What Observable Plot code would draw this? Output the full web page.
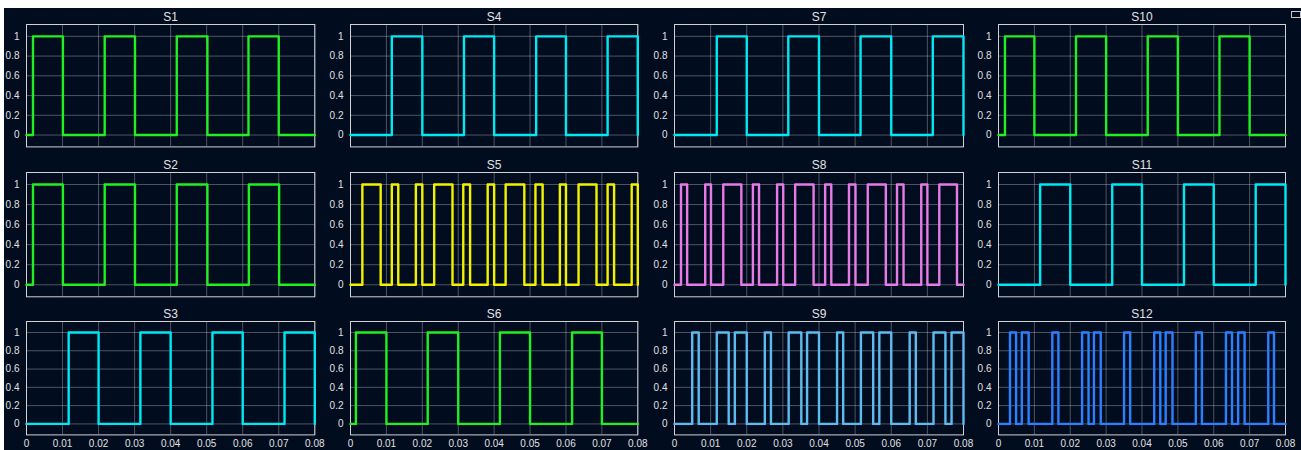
<!DOCTYPE html>
<html>
<head>
<meta charset="utf-8">
<script src="https://cdn.jsdelivr.net/npm/d3@7"></script>
<script src="https://cdn.jsdelivr.net/npm/@observablehq/plot@0.6"></script>
<style>
  html, body { margin: 0; padding: 0; background: #ffffff; }
  #page { position: relative; width: 1301px; height: 450px; overflow: hidden; background: #ffffff; }
  #dark { position: absolute; left: 4px; top: 8px; right: 0; bottom: 0; background: #020c1f; }
  .panel { position: absolute; }
  .panel svg { overflow: visible; }
  #icon { position: absolute; left: 1291px; top: 11px; width: 8px; height: 5px; border: 1px solid #c8c8c8; }
</style>
</head>
<body>
<div id="page"><div id="dark"></div><div id="icon"></div></div>
<script>
// ---- data ----
const seriesNames = ["S1","S2","S3","S4","S5","S6","S7","S8","S9","S10","S11","S12"];
const xTicks = [0, 0.01, 0.02, 0.03, 0.04, 0.05, 0.06, 0.07, 0.08];
const xTickLabels = ["0","0.01","0.02","0.03","0.04","0.05","0.06","0.07","0.08"];
const yTicks = [0, 0.2, 0.4, 0.6, 0.8, 1];
const yTickLabels = ["0","0.2","0.4","0.6","0.8","1"];
const tEnd = 0.08;
// switching instants of each signal (starts at 0, toggles 0/1 at each instant)
const s1Edges  = [0.0018,0.0101,0.0217,0.0301,0.0417,0.0502,0.0616,0.0700];
const s2Edges  = [0.0018,0.0101,0.0217,0.0301,0.0417,0.0502,0.0617,0.0701];
const s3Edges  = [0.0117,0.0200,0.0316,0.0400,0.0516,0.0600,0.0716,0.0800];
const s4Edges  = [0.0115,0.0200,0.0316,0.0400,0.0517,0.0600,0.0716,0.0800];
const s5Edges  = [0.0033,0.0084,0.0115,0.0133,0.0182,0.0200,0.0233,0.0284,0.0314,0.0333,0.0382,0.0400,
                  0.0432,0.0484,0.0515,0.0535,0.0583,0.0600,0.0635,0.0685,0.0716,0.0734,0.0783,0.0800];
const s6Edges  = [0.0015,0.0100,0.0215,0.0300,0.0416,0.0500,0.0617,0.0700];
const s7Edges  = [0.0117,0.0200,0.0315,0.0400,0.0515,0.0600,0.0715,0.0800];
const s8Edges  = [0.0018,0.0035,0.0085,0.0101,0.0135,0.0185,0.0217,0.0234,0.0284,0.0301,0.0334,0.0385,
                  0.0417,0.0434,0.0483,0.0501,0.0535,0.0585,0.0616,0.0634,0.0683,0.0700,0.0733,0.0782];
const s9Edges  = [0.0049,0.0067,0.0117,0.0150,0.0167,0.0200,0.0250,0.0267,0.0316,0.0351,0.0367,0.0400,
                  0.0450,0.0467,0.0516,0.0550,0.0567,0.0600,0.0651,0.0668,0.0717,0.0750,0.0767,0.0800];
const s10Edges = [0.0018,0.0100,0.0216,0.0300,0.0416,0.0500,0.0616,0.0700];
const s11Edges = [0.0116,0.0200,0.0317,0.0400,0.0517,0.0600,0.0717,0.0800];
const s12Edges = [0.0032,0.0049,0.0065,0.0084,0.0150,0.0167,0.0233,0.0251,0.0266,0.0285,0.0350,0.0367,
                  0.0434,0.0451,0.0466,0.0485,0.0550,0.0567,0.0634,0.0651,0.0668,0.0686,0.0752,0.0768];
const allEdges = [s1Edges,s2Edges,s3Edges,s4Edges,s5Edges,s6Edges,s7Edges,s8Edges,s9Edges,s10Edges,s11Edges,s12Edges];

// ---- styles / layout ----
const seriesColors = {
  S1:"#22ee22", S2:"#22ee22", S3:"#00e8f2", S4:"#00e8f2", S5:"#f2f200", S6:"#22ee22",
  S7:"#00e8f2", S8:"#e67ae6", S9:"#5cbcf0", S10:"#22ee22", S11:"#00e8f2", S12:"#2a80ff"
};
const gridLayout = [["S1","S4","S7","S10"],["S2","S5","S8","S11"],["S3","S6","S9","S12"]];
const colLeft  = [25.5, 350, 673.8, 997.7];
const colRight = [313.8, 637.3, 962.8, 1284.7];
const rowTop    = [24.3, 171.7, 321.3];
const rowBottom = [146.7, 296, 434.7];
const mL = 32, mR = 6, mT = 22;

function buildPoints(edges) {
  const pts = [{t: 0, v: 0}];
  let v = 0;
  for (const e of edges) { v = 1 - v; pts.push({t: e, v}); }
  pts.push({t: tEnd, v});
  return pts;
}

const page = document.getElementById("page");
const fmtX = d => xTickLabels[xTicks.indexOf(d)];
const fmtY = d => yTickLabels[yTicks.indexOf(d)];

gridLayout.forEach((row, r) => {
  row.forEach((name, c) => {
    const idx = seriesNames.indexOf(name);
    const pts = buildPoints(allEdges[idx]);
    const bottomRow = r === gridLayout.length - 1;
    const mB = bottomRow ? 18 : 2;
    const fw = colRight[c] - colLeft[c];
    const fh = rowBottom[r] - rowTop[r];
    const marks = [
      Plot.gridX(xTicks, {stroke: "#ffffff", strokeOpacity: 0.3, strokeWidth: 1}),
      Plot.gridY(yTicks, {stroke: "#ffffff", strokeOpacity: 0.3, strokeWidth: 1}),
      Plot.frame({stroke: "#d2d2d2", strokeWidth: 1}),
      Plot.axisY(yTicks, {tickSize: 0, tickPadding: 7, tickFormat: fmtY, label: null, fill: "#e0e0e0", fontSize: 10}),
      Plot.line(pts, {x: "t", y: "v", curve: "step-after", stroke: seriesColors[name], strokeWidth: 2.4}),
      Plot.text([name], {frameAnchor: "top", lineAnchor: "middle", dy: -7, text: d => d, fill: "#e2e2e2", fontSize: 12})
    ];
    if (bottomRow) {
      marks.push(Plot.axisX(xTicks, {tickSize: 0, tickPadding: 5, tickFormat: fmtX, label: null, fill: "#e0e0e0", fontSize: 10}));
    }
    const chart = Plot.plot({
      width: fw + mL + mR,
      height: fh + mT + mB,
      marginLeft: mL, marginRight: mR, marginTop: mT, marginBottom: mB,
      x: {domain: [0, tEnd], label: null, ...(bottomRow ? {} : {axis: null})},
      y: {domain: [-0.12, 1.12], label: null},
      style: {background: "transparent", color: "#e0e0e0", fontFamily: "'Liberation Sans', Arial, sans-serif", fontSize: "10px"},
      marks
    });
    const holder = document.createElement("div");
    holder.className = "panel";
    holder.style.left = (colLeft[c] - mL) + "px";
    holder.style.top = (rowTop[r] - mT) + "px";
    holder.appendChild(chart);
    page.appendChild(holder);
  });
});
</script>
</body>
</html>
